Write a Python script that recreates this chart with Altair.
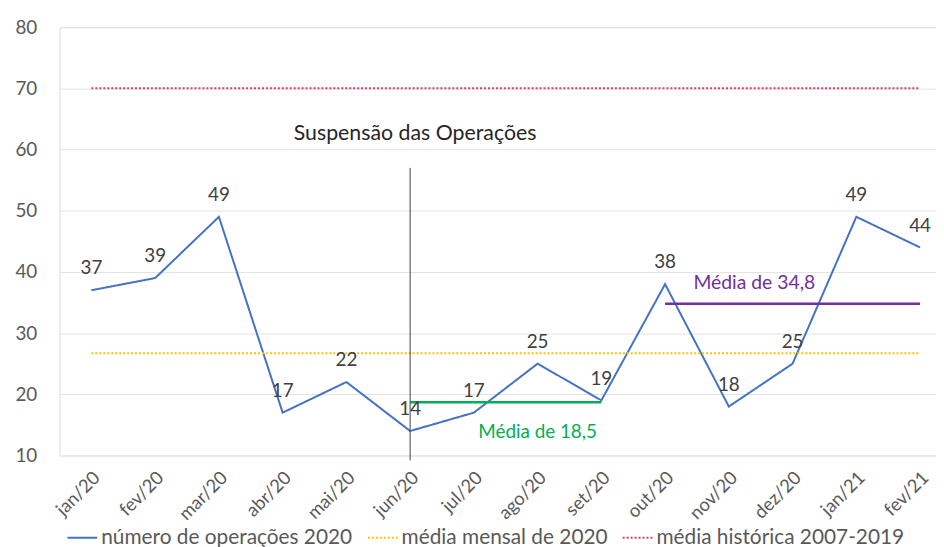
import altair as alt
import pandas as pd

# ---- data ----
months = ["jan/20", "fev/20", "mar/20", "abr/20", "mai/20", "jun/20", "jul/20",
          "ago/20", "set/20", "out/20", "nov/20", "dez/20", "jan/21", "fev/21"]
operacoes = [37, 39, 49, 17, 22, 14, 17, 25, 19, 38, 18, 25, 49, 44]

series_names = ["número de operações 2020", "média mensal de 2020", "média histórica 2007-2019"]
media_mensal_2020 = 26.7
media_historica = 70

# period averages (start month, end month, value, label)
susp_start, susp_end, susp_value, susp_label = "jun/20", "set/20", 18.7, "Média de 18,5"
ret_start, ret_end, ret_value, ret_label = "out/20", "fev/21", 34.8, "Média de 34,8"

# event marker
evento_mes = "jun/20"
evento_topo = 57
evento_label = "Suspensão das Operações"
evento_label_y = 62.5
susp_label_pos = ("ago/20", 13.9)
ret_label_pos = (10.4, 38.2)

# ---- tables ----
idx = {m: i for i, m in enumerate(months)}
rows = []
for m, v in zip(months, operacoes):
    rows.append({"serie": series_names[0], "idx": idx[m], "valor": v})
for m in (months[0], months[-1]):
    rows.append({"serie": series_names[1], "idx": idx[m], "valor": media_mensal_2020})
    rows.append({"serie": series_names[2], "idx": idx[m], "valor": media_historica})
lines_df = pd.DataFrame(rows)
points_df = pd.DataFrame({"idx": [idx[m] for m in months], "valor": operacoes,
                          "label": [str(v) for v in operacoes]})

seg_df = pd.DataFrame([
    {"x": idx[susp_start], "x2": idx[susp_end], "y": susp_value, "nome": "susp"},
    {"x": idx[ret_start], "x2": idx[ret_end], "y": ret_value, "nome": "ret"},
])

FONT = "Lato"
label_expr = "[" + ",".join("'" + m + "'" for m in months) + "][datum.value]"

x_scale = alt.Scale(domain=[-0.5, 13.25], nice=False, zero=False)
y_scale = alt.Scale(domain=[10, 80], nice=False, zero=False)

x_enc = alt.X("idx:Q", scale=x_scale, axis=alt.Axis(
    values=list(range(len(months))), labelExpr=label_expr, labelAngle=-45,
    labelAlign="right", labelBaseline="middle", labelPadding=19, labelOffset=5,
    grid=False, domain=False, ticks=False, title=None, labelFont=FONT,
    labelFontSize=18.5, labelColor="#595959"))
y_enc = alt.Y("valor:Q", scale=y_scale, axis=alt.Axis(
    values=[10, 20, 30, 40, 50, 60, 70, 80], grid=True, gridColor="#E3E3E3",
    domain=False, ticks=False, title=None, labelFont=FONT, labelFontSize=19,
    labelColor="#595959", labelPadding=23))

lines = alt.Chart(lines_df).mark_line(strokeWidth=2).encode(
    x=x_enc, y=y_enc,
    color=alt.Color("serie:N", scale=alt.Scale(domain=series_names,
                    range=["#4472C4", "#FFC000", "#E8395E"]),
                    legend=alt.Legend(title=None, orient="none", legendX=7, legendY=499,
                                      direction="horizontal", symbolType="stroke",
                                      symbolSize=900, symbolStrokeWidth=2,
                                      labelFont=FONT, labelFontSize=21, labelLimit=0,
                                      labelColor="#595959", columnPadding=11,
                                      labelOffset=3)),
    strokeDash=alt.StrokeDash("serie:N", scale=alt.Scale(domain=series_names,
                              range=[[1, 0], [2, 2], [2, 2]]), legend=None),
)

seg_green = alt.Chart(seg_df[seg_df.nome == "susp"]).mark_rule(
    color="#00B050", strokeWidth=2.5).encode(x="x:Q", x2="x2:Q", y="y:Q")
seg_purple = alt.Chart(seg_df[seg_df.nome == "ret"]).mark_rule(
    color="#7030A0", strokeWidth=2.5).encode(x="x:Q", x2="x2:Q", y="y:Q")

evento_df = pd.DataFrame({"x": [idx[evento_mes]], "y": [9.2], "y2": [evento_topo],
                          "ly": [evento_label_y], "t": [evento_label]})
evento_rule = alt.Chart(evento_df).mark_rule(color="#404040", strokeWidth=1, clip=False).encode(
    x="x:Q", y="y:Q", y2="y2:Q")
evento_text = alt.Chart(evento_df).mark_text(font=FONT, fontSize=21.5, color="#262626", dx=5).encode(
    x="x:Q", y="ly:Q", text="t:N")

labels = alt.Chart(points_df).mark_text(font=FONT, fontSize=19, color="#404040",
                                        baseline="middle", dy=-22).encode(
    x="idx:Q", y="valor:Q", text="label:N")

avg_labels_df = pd.DataFrame([
    {"x": idx[susp_label_pos[0]], "y": susp_label_pos[1], "t": susp_label, "c": "g"},
    {"x": ret_label_pos[0], "y": ret_label_pos[1], "t": ret_label, "c": "p"},
])
avg_g = alt.Chart(avg_labels_df[avg_labels_df.c == "g"]).mark_text(
    font=FONT, fontSize=19, color="#00B050").encode(x="x:Q", y="y:Q", text="t:N")
avg_p = alt.Chart(avg_labels_df[avg_labels_df.c == "p"]).mark_text(
    font=FONT, fontSize=19.5, color="#7030A0").encode(x="x:Q", y="y:Q", text="t:N")

chart = alt.layer(lines, seg_green, seg_purple, evento_rule, evento_text, labels, avg_g, avg_p).properties(
    width=884, height=432,
    autosize=alt.AutoSizeParams(type="none"),
    padding={"left": 52, "top": 17, "right": 0, "bottom": 90},
).configure_view(stroke=None).configure(background="white")

chart.save("out.html", embed_options={"renderer": "svg", "actions": False})
